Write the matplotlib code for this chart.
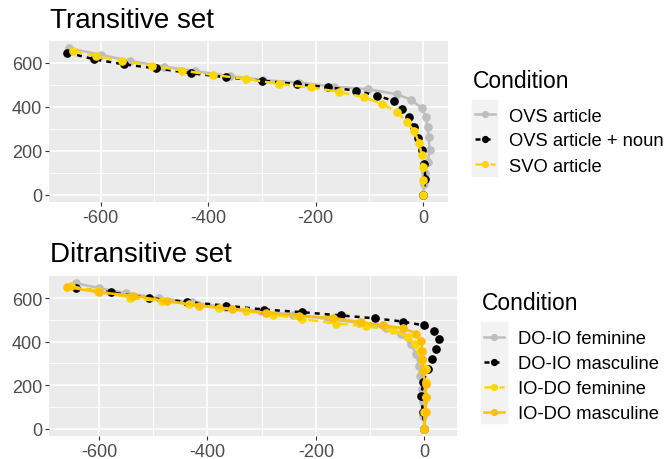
import numpy as np
import matplotlib
matplotlib.use("Agg")
import matplotlib.pyplot as plt
from matplotlib.patches import Rectangle
from matplotlib.lines import Line2D

plt.rcParams['font.family'] = ['Liberation Sans', 'DejaVu Sans']
plt.rcParams['axes.unicode_minus'] = False  # ggplot-style hyphen minus

# ---- Transitive set ----
tr_labels = ['OVS article', 'OVS article + noun', 'SVO article']
tr_ovs_art_x = [-659, -600, -545, -483, -425, -360, -298, -231, -166, -102, -49, -22, -3, 5, 8, 10, 12, 8, 4, 1, 0]
tr_ovs_art_y = [665, 636, 607, 582, 562, 539, 521, 509, 491, 479, 456, 431, 393, 352, 307, 260, 201, 150, 100, 50, 0]
tr_ovs_noun_x = [-662, -612, -557, -497, -432, -366, -300, -235, -178, -126, -86, -55, -39, -26, -18, -10, -2, 2, 4, 0]
tr_ovs_noun_y = [645, 615, 592, 574, 552, 533, 518, 502, 488, 473, 450, 426, 388, 351, 307, 257, 201, 139, 71, 0]
tr_svo_x = [-652, -609, -560, -505, -449, -391, -329, -268, -209, -157, -111, -76, -49, -31, -17, -8, -3, -1, 0, 0]
tr_svo_y = [654, 630, 607, 586, 564, 544, 526, 503, 487, 467, 443, 412, 375, 332, 290, 237, 181, 128, 68, 0]

# ---- Ditransitive set ----
di_labels = ['DO-IO feminine', 'DO-IO masculine', 'IO-DO feminine', 'IO-DO masculine']
di_doio_f_x = [-643, -600, -551, -489, -428, -366, -302, -243, -178, -120, -71, -43, -25, -15, -10, -8, -4, -3, -2, 0]
di_doio_f_y = [668, 646, 623, 600, 580, 557, 539, 524, 504, 486, 463, 433, 387, 342, 289, 243, 182, 122, 61, 0]
di_doio_m_x = [-642, -578, -508, -437, -366, -295, -225, -154, -92, -40, 0, 18, 26, 22, 14, 6, -2, -6, -3, 0]
di_doio_m_y = [646, 626, 600, 582, 565, 547, 535, 520, 507, 492, 474, 448, 410, 365, 319, 273, 216, 152, 79, 0]
di_iodo_f_x = [-652, -601, -542, -483, -434, -378, -329, -280, -225, -163, -108, -58, -31, -18, -9, -4, 2, 3, 2, 0, 0]
di_iodo_f_y = [653, 633, 600, 585, 574, 554, 539, 524, 504, 483, 471, 451, 422, 390, 357, 311, 273, 213, 144, 76, 0]
di_iodo_m_x = [-658, -600, -538, -474, -415, -354, -292, -231, -169, -117, -77, -40, -15, -6, -4, -4, -3, 2, 3, 2, 0]
di_iodo_m_y = [650, 626, 611, 585, 565, 550, 532, 519, 509, 489, 475, 462, 437, 403, 357, 319, 266, 205, 144, 76, 0]

GRAY = '#BEBEBE'
BLACK = '#000000'
GOLD = '#FFD700'
AMBER = '#FFC000'

W, H = 666, 460
LW = 1.8
MS = 5.2


def fx(px):
    return px / W


def fy(py):
    return 1 - py / H


def style_axes(ax, xlim, ylim):
    ax.set_facecolor('#EBEBEB')
    ax.set_xlim(*xlim)
    ax.set_ylim(*ylim)
    ax.set_xticks([-600, -400, -200, 0])
    ax.set_xticks([-500, -300, -100], minor=True)
    ax.set_yticks([0, 200, 400, 600])
    ax.set_yticks([100, 300, 500], minor=True)
    ax.grid(True, which='major', color='white', lw=1.1)
    ax.grid(True, which='minor', color='white', lw=0.55)
    ax.set_axisbelow(True)
    for s in ax.spines.values():
        s.set_visible(False)
    ax.tick_params(which='major', length=3, width=0.8, color='#333333',
                   labelcolor='#4D4D4D', labelsize=13, pad=2)
    ax.tick_params(which='minor', length=0)


def draw_legend(fig, styles, labels, title_xy, box, key_x, text_x, baselines):
    fig.text(fx(title_xy[0]), fy(title_xy[1]), 'Condition', fontsize=16.5,
             ha='left', va='baseline')
    x0, y0, x1, y1 = box
    fig.add_artist(Rectangle((fx(x0), fy(y1)), fx(x1) - fx(x0), fy(y0) - fy(y1),
                             transform=fig.transFigure, color='#F2F2F2', zorder=0))
    for (color, ls), lab, b in zip(styles, labels, baselines):
        yc = b - 6.5
        fig.add_artist(Line2D([fx(key_x[0]), fx(key_x[1])], [fy(yc), fy(yc)],
                              transform=fig.transFigure, color=color, lw=LW, ls=ls))
        fig.add_artist(Line2D([fx((key_x[0] + key_x[1]) / 2)], [fy(yc)],
                              transform=fig.transFigure, color=color, marker='o',
                              ms=MS * 0.8, ls='none'))
        fig.text(fx(text_x), fy(b), lab, fontsize=13.2, ha='left', va='baseline')


fig = plt.figure(figsize=(W / 100, H / 100), dpi=100)

tr_styles = [(GRAY, '-'), (BLACK, (0, (2, 2))), (GOLD, (0, (4, 2)))]
di_styles = [(GRAY, '-'), (BLACK, (0, (2, 2))), (GOLD, (0, (4, 2))), (AMBER, '-')]

# top panel
ax1 = fig.add_axes([fx(49), fy(203), fx(448) - fx(49), fy(42) - fy(203)])
for (c, ls), xs, ys in zip(tr_styles,
                           [tr_ovs_art_x, tr_ovs_noun_x, tr_svo_x],
                           [tr_ovs_art_y, tr_ovs_noun_y, tr_svo_y]):
    ax1.plot(xs, ys, color=c, lw=LW, ls=ls, marker='o', ms=MS)
style_axes(ax1, (-696, 46), (-33, 698))

# bottom panel
ax2 = fig.add_axes([fx(49), fy(437), fx(457) - fx(49), fy(277) - fy(437)])
for (c, ls), xs, ys in zip(di_styles,
                           [di_doio_f_x, di_doio_m_x, di_iodo_f_x, di_iodo_m_x],
                           [di_doio_f_y, di_doio_m_y, di_iodo_f_y, di_iodo_m_y]):
    ax2.plot(xs, ys, color=c, lw=LW, ls=ls, marker='o', ms=MS)
style_axes(ax2, (-692, 60), (-33, 701))

# titles
fig.text(fx(50), fy(28), 'Transitive set', fontsize=20, ha='left', va='baseline')
fig.text(fx(50), fy(262), 'Ditransitive set', fontsize=20, ha='left', va='baseline')

draw_legend(fig, tr_styles, tr_labels, (473, 88), (472, 101, 497, 177),
            (475, 495), 509, [121.5, 146.5, 171.5])
draw_legend(fig, di_styles, di_labels, (482, 310), (481, 323, 507, 424),
            (484, 504), 518, [344, 369, 394, 419])

fig.savefig('out.png', dpi=100)
